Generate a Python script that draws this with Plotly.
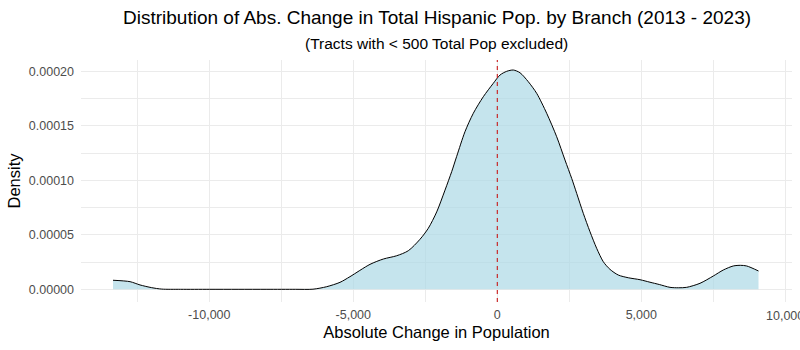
import plotly.graph_objects as go

# Density curve (x = absolute change, y = density)
change = [-13344, -12753, -12406, -12000, -11650, -11000, -10000, -9000, -8000, -7000,
          -6400, -5924, -5462, -5115, -4420, -3955, -3493, -3090, -2684, -2396,
          -2104, -1816, -1583, -1410, -1122, -833, -486, -139, 94, 326,
          556, 788, 1076, 1368, 1715, 2062, 2351, 2583, 2757, 2986,
          3219, 3451, 3681, 3913, 4201, 4549, 4955, 5302, 5625, 5997,
          6300, 6576, 7038, 7500, 7847, 8194, 8450, 8660, 9070]
density = [8.3e-6, 7.0e-6, 4.0e-6, 1.5e-6, 0.2e-6, 0.0, 0.0, 0.0, 0.0, 0.0,
           0.1e-6, 2.4e-6, 6.4e-6, 1.16e-5, 2.29e-5, 2.78e-5, 3.08e-5, 3.54e-5, 4.59e-5, 5.6e-5,
           7.1e-5, 9.1e-5, 1.08e-4, 1.22e-4, 1.446e-4, 1.615e-4, 1.767e-4, 1.89e-4, 1.966e-4, 2.0e-4,
           2.012e-4, 1.987e-4, 1.905e-4, 1.798e-4, 1.615e-4, 1.4e-4, 1.186e-4, 1.018e-4, 8.8e-5, 6.97e-5,
           5.28e-5, 3.76e-5, 2.53e-5, 1.83e-5, 1.31e-5, 1.06e-5, 8.8e-6, 6.5e-6, 4.4e-6, 1.8e-6,
           1.4e-6, 1.8e-6, 5.5e-6, 1.22e-5, 1.77e-5, 2.14e-5, 2.2e-5, 2.14e-5, 1.68e-5]

x_ticks = [-10000, -5000, 0, 5000, 10000]
x_tick_labels = ["-10,000", "-5,000", "0", "5,000", "10,000"]
y_ticks = [0, 0.00005, 0.0001, 0.00015, 0.0002]
y_tick_labels = ["0.00000", "0.00005", "0.00010", "0.00015", "0.00020"]

title = "Distribution of Abs. Change in Total Hispanic Pop. by Branch (2013 - 2023)"
subtitle = "(Tracts with < 500 Total Pop excluded)"

font_family = "Liberation Sans, Arial, sans-serif"
tick_font = dict(size=12.5, color="#4D4D4D", family=font_family)

fig = go.Figure()
fig.add_trace(go.Scatter(
    x=change, y=density, mode="lines",
    line=dict(color="black", width=1, shape="spline", smoothing=0.8),
    fill="tozeroy", fillcolor="rgba(173,216,230,0.7)",
    hoverinfo="skip", showlegend=False,
))

fig.add_shape(type="line", x0=0, x1=0, xref="x", y0=0, y1=1, yref="paper",
              line=dict(color="#C81818", width=1.1, dash="4px,4px"))

# Last x tick label sits past the panel edge (clipped by the page in the reference)
x_last = x_ticks[-1]
x_last_label = x_tick_labels[-1]

fig.update_layout(
    width=800, height=350,
    margin=dict(l=81, r=8, t=60, b=48),
    paper_bgcolor="white", plot_bgcolor="white",
    font=dict(family=font_family, color="black"),
    annotations=[
        dict(text=title, x=0.5, y=1, xref="paper", yref="paper", yshift=29.5,
             xanchor="center", yanchor="bottom", showarrow=False,
             font=dict(size=19, color="black", family=font_family)),
        dict(text=subtitle, x=0.5, y=1, xref="paper", yref="paper", yshift=5.5,
             xanchor="center", yanchor="bottom", showarrow=False,
             font=dict(size=15.5, color="black", family=font_family)),
        dict(text=x_last_label, x=x_last, xref="x", y=0, yref="paper", yshift=-5,
             xanchor="center", yanchor="top", showarrow=False, font=tick_font),
    ],
    xaxis=dict(
        range=[-14455, 10233], tickvals=x_ticks[:-1], ticktext=x_tick_labels[:-1],
        showgrid=True, gridcolor="#EBEBEB", gridwidth=1, zeroline=False,
        showline=False, ticks="", tickfont=tick_font, ticklabelstandoff=3,
        minor=dict(tickvals=[-12500, -7500, -2500, 2500, 7500, 10000], showgrid=True,
                   gridcolor="#EBEBEB", gridwidth=1),
        title=dict(text="Absolute Change in Population", font=dict(size=16.5, color="black"), standoff=5),
    ),
    yaxis=dict(
        range=[-1.165e-5, 2.104e-4], tickvals=y_ticks, ticktext=y_tick_labels,
        showgrid=True, gridcolor="#EBEBEB", gridwidth=1, zeroline=False,
        showline=False, ticks="", tickfont=tick_font, ticklabelstandoff=6,
        minor=dict(dtick=0.00005, tick0=0.000025, showgrid=True, gridcolor="#EBEBEB", gridwidth=1),
        title=dict(text="Density", font=dict(size=16.5, color="black"), standoff=4),
    ),
)

fig.write_html("out.html")
